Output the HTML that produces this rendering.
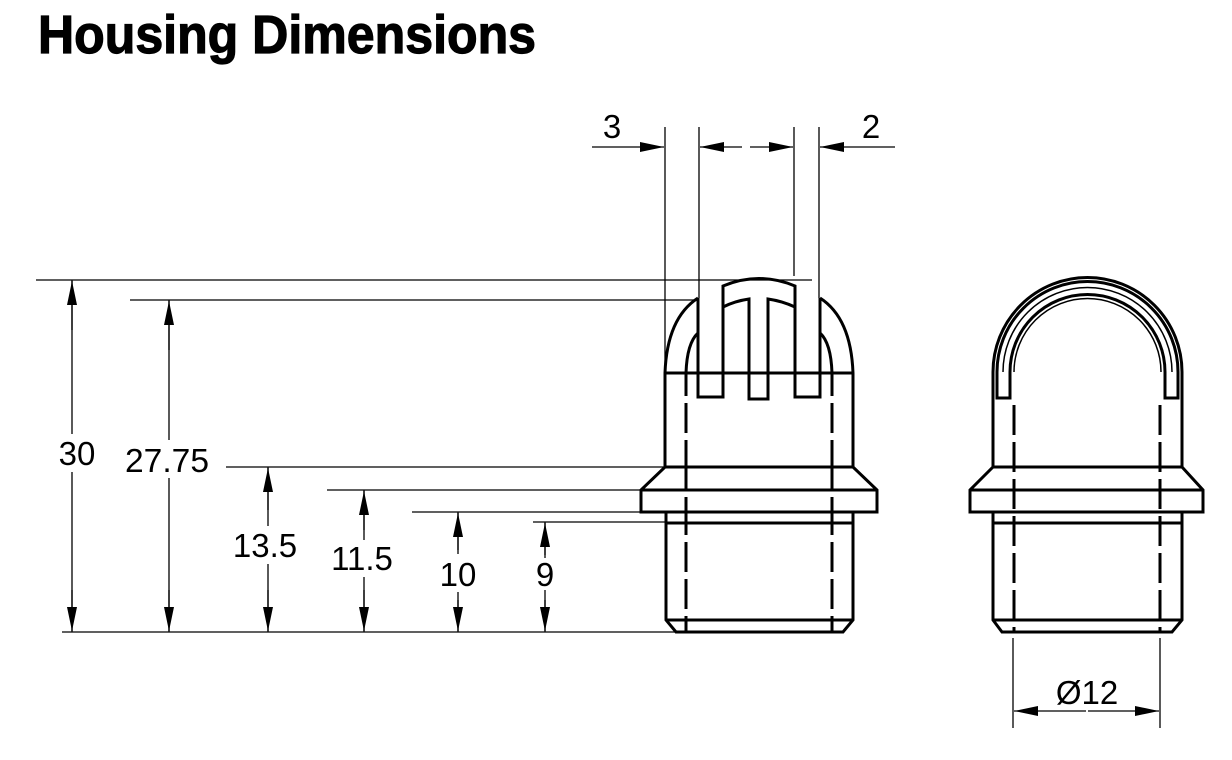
<!DOCTYPE html>
<html><head><meta charset="utf-8"><style>
html,body{margin:0;padding:0;background:#fff;}
svg{display:block}
text{font-family:"Liberation Sans",sans-serif;fill:#000}
</style></head><body>
<svg width="1232" height="760" viewBox="0 0 1232 760" xmlns="http://www.w3.org/2000/svg">
<defs>
<marker id="a" viewBox="0 0 24 10" refX="24" refY="5" markerWidth="24" markerHeight="11" markerUnits="userSpaceOnUse" orient="auto"><path d="M0,0 L24,5 L0,10 Z" fill="#000"/></marker>
</defs>
<text x="38" y="53" font-size="54" font-weight="bold" stroke="#000" stroke-width="1.2" textLength="498" lengthAdjust="spacingAndGlyphs">Housing Dimensions</text>

<g stroke="#000" stroke-width="1.3" fill="none">
<line x1="36" y1="280" x2="812" y2="280"/>
<line x1="130" y1="300" x2="698" y2="300"/>
<line x1="226" y1="467" x2="665" y2="467"/>
<line x1="327" y1="490" x2="641" y2="490"/>
<line x1="412" y1="512" x2="641" y2="512"/>
<line x1="533" y1="522" x2="666" y2="522"/>
<line x1="62" y1="632" x2="676" y2="632"/>
<line x1="72" y1="280" x2="72" y2="434"/><line x1="72" y1="472" x2="72" y2="632"/>
<line x1="169" y1="300" x2="169" y2="440"/><line x1="169" y1="478" x2="169" y2="632"/>
<line x1="268" y1="467" x2="268" y2="526"/><line x1="268" y1="564" x2="268" y2="632"/>
<line x1="364" y1="490" x2="364" y2="540"/><line x1="364" y1="577" x2="364" y2="632"/>
<line x1="458" y1="512" x2="458" y2="554"/><line x1="458" y1="592" x2="458" y2="632"/>
<line x1="545" y1="522" x2="545" y2="558"/><line x1="545" y1="590" x2="545" y2="632"/>
</g>
<g stroke="#000" stroke-width="1.3" fill="none">
<line x1="72" y1="330" x2="72" y2="281" marker-end="url(#a)"/><line x1="72" y1="590" x2="72" y2="631" marker-end="url(#a)"/>
<line x1="169" y1="350" x2="169" y2="301" marker-end="url(#a)"/><line x1="169" y1="590" x2="169" y2="631" marker-end="url(#a)"/>
<line x1="268" y1="510" x2="268" y2="468" marker-end="url(#a)"/><line x1="268" y1="590" x2="268" y2="631" marker-end="url(#a)"/>
<line x1="364" y1="530" x2="364" y2="491" marker-end="url(#a)"/><line x1="364" y1="590" x2="364" y2="631" marker-end="url(#a)"/>
<line x1="458" y1="550" x2="458" y2="513" marker-end="url(#a)"/><line x1="458" y1="600" x2="458" y2="631" marker-end="url(#a)"/>
<line x1="545" y1="555" x2="545" y2="523" marker-end="url(#a)"/><line x1="545" y1="600" x2="545" y2="631" marker-end="url(#a)"/>
</g>
<g font-size="33" text-anchor="middle">
<text x="77" y="465">30</text>
<text x="167" y="472" textLength="84" lengthAdjust="spacingAndGlyphs">27.75</text>
<text x="265" y="557">13.5</text>
<text x="362" y="570">11.5</text>
<text x="458" y="586">10</text>
<text x="545" y="586">9</text>
<text x="612" y="138">3</text>
<text x="871" y="138">2</text>
<text x="1087" y="704">Ø12</text>
</g>
<g stroke="#000" stroke-width="1.3" fill="none">
<line x1="665" y1="127" x2="665" y2="373"/>
<line x1="699" y1="127" x2="699" y2="298"/>
<line x1="794" y1="127" x2="794" y2="276"/>
<line x1="819" y1="127" x2="819" y2="298"/>
<line x1="592" y1="147" x2="664" y2="147" marker-end="url(#a)"/>
<line x1="742" y1="147" x2="700" y2="147" marker-end="url(#a)"/>
<line x1="750" y1="147" x2="793" y2="147" marker-end="url(#a)"/>
<line x1="895" y1="147" x2="820" y2="147" marker-end="url(#a)"/>
<line x1="1013" y1="638" x2="1013" y2="728"/>
<line x1="1160" y1="638" x2="1160" y2="728"/>
<line x1="1086" y1="711" x2="1014" y2="711" marker-end="url(#a)"/>
<line x1="1088" y1="711" x2="1159" y2="711" marker-end="url(#a)"/>
</g>

<g stroke="#000" stroke-width="3" fill="none" stroke-linejoin="miter">
<path d="M665,373 L665,467 M853,373 L853,467"/>
<path d="M665,373 Q667,318 698,298"/>
<path d="M853,373 Q851,318 820,298"/>
<path d="M686,373 Q687,343 698,333"/>
<path d="M832,373 Q831,343 820,333"/>
<line x1="665" y1="373" x2="853" y2="373"/>
<path d="M698,298 L698,397 L723,397 L723,286 Q759,271 795,286 L795,397 L820,397 L820,298"/>
<path d="M723,307 Q735,301 749,299 L749,399 L768,399 L768,299 Q782,301 795,307"/>
<path d="M665,467 L853,467 L877,490 L877,512 L641,512 L641,490 Z"/>
<line x1="641" y1="490" x2="877" y2="490"/>
<path d="M666,512 L666,620 L676,632 L843,632 L853,620 L853,512"/>
<line x1="666" y1="523" x2="853" y2="523"/>
<line x1="666" y1="620" x2="853" y2="620"/>
<path d="M686,373 V467 M832,373 V467 M686,512 V632 M832,512 V632 M686,467 V512 M832,467 V512" stroke-dasharray="30,7" stroke-dashoffset="-30"/>
</g>

<g stroke="#000" stroke-width="3" fill="none">
<path d="M993,467 L993,372 A94.5,94.5 0 0 1 1182,372 L1182,467"/>
<path d="M997,398 L997,372 A90.5,90.5 0 0 1 1178,372 L1178,398 L1165,398 L1165,372 A77.5,77.5 0 0 0 1010,372 L1010,398 Z"/>
<path d="M1003,372 A84.5,84.5 0 0 1 1172,372" stroke-width="1.5"/>
<path d="M1014,372 A73.5,73.5 0 0 1 1161,372" stroke-width="1.5"/>
<path d="M993,467 L1182,467 L1203,490 L1203,512 L970,512 L970,490 Z"/>
<line x1="970" y1="490" x2="1203" y2="490"/>
<path d="M993,512 L993,620 L1002,632 L1172,632 L1182,620 L1182,512"/>
<line x1="993" y1="523" x2="1182" y2="523"/>
<line x1="993" y1="620" x2="1182" y2="620"/>
<path d="M1014,400 V632 M1160,400 V632" stroke-dasharray="30,7" stroke-dashoffset="-5"/>
</g>
</svg>
</body></html>
